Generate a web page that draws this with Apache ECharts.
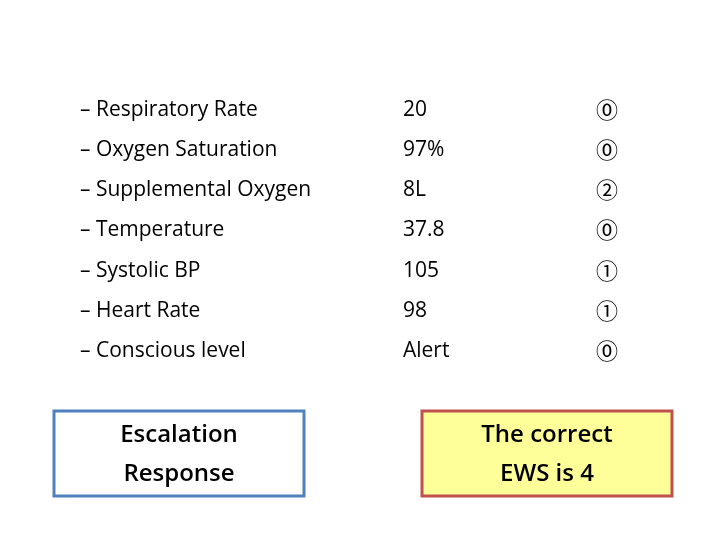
<!DOCTYPE html>
<html><head><meta charset="utf-8">
<script src="https://cdn.jsdelivr.net/npm/echarts@6/dist/echarts.min.js"></script>
<style>html,body{margin:0;padding:0;background:#fff}#c{width:720px;height:540px}</style>
</head><body><div id="c"></div>
<script>
const parameters = ['Respiratory Rate','Oxygen Saturation','Supplemental Oxygen','Temperature','Systolic BP','Heart Rate','Conscious level'];
const readings = ['20','97%','8L','37.8','105','98','Alert'];
const scores = ['⓪','⓪','②','⓪','①','①','⓪'];
const leftBoxText = 'Escalation\nResponse';
const rightBoxText = 'The correct\nEWS is 4';

const font = '"Open Sans", Lato, sans-serif';
const els = [];
const rowY = [110,150,190,230,271,311,351];
parameters.forEach((p,i)=>{
  els.push({type:'text',x:80,y:rowY[i],style:{text:'– '+p,font:'21px '+font,fill:'#000',verticalAlign:'middle'}});
  els.push({type:'text',x:403,y:rowY[i],style:{text:readings[i],font:'21px '+font,fill:'#000',verticalAlign:'middle'}});
  els.push({type:'text',x:607,y:rowY[i],style:{text:scores[i],font:'22px "Noto Sans CJK SC", sans-serif',fill:'#000',align:'center',verticalAlign:'middle'}});
});
els.push({type:'rect',shape:{x:54,y:411,width:250,height:85},style:{fill:'#fff',stroke:'#4f81bd',lineWidth:3}});
els.push({type:'text',x:179,y:455,style:{text:leftBoxText,font:'600 24px '+font,fill:'#000',align:'center',verticalAlign:'middle',lineHeight:39}});
els.push({type:'rect',shape:{x:422,y:411,width:250,height:85},style:{fill:'#ffff99',stroke:'#c0504d',lineWidth:3}});
els.push({type:'text',x:547,y:455,style:{text:rightBoxText,font:'600 24px '+font,fill:'#000',align:'center',verticalAlign:'middle',lineHeight:39}});

const chart = echarts.init(document.getElementById('c'));
chart.setOption({animation:false,graphic:{elements:els}});
</script></body></html>
